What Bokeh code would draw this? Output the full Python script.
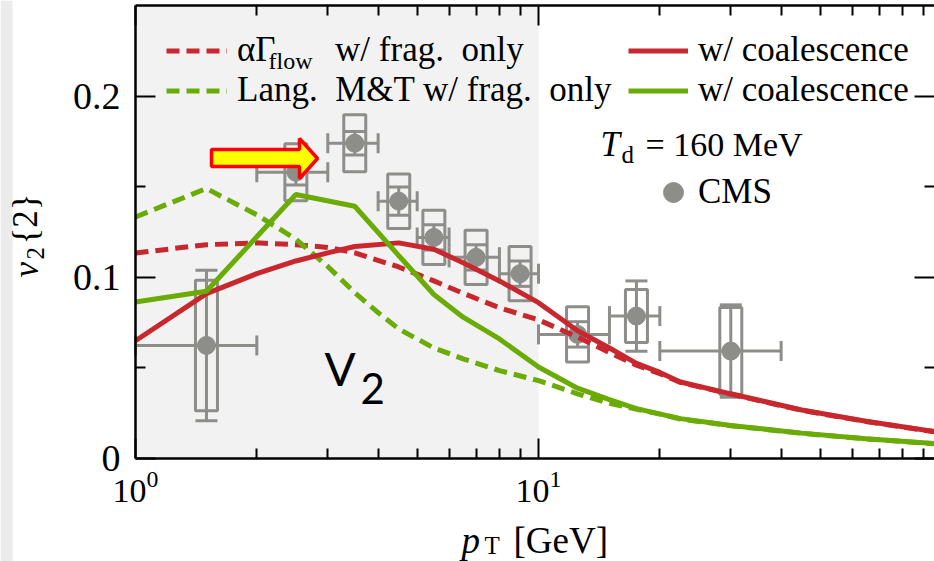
from bokeh.plotting import figure
from bokeh.models import (Range1d, LogAxis, LinearAxis, FixedTicker, LogTickFormatter,
                          BoxAnnotation, Legend, LegendItem, Label, PolyAnnotation,
                          Whisker, TeeHead, ColumnDataSource, NumeralTickFormatter,
                          CustomJSTickFormatter)
from bokeh.embed import file_html
from bokeh.resources import INLINE
from math import pi

# ---------------- data ----------------
# model curves (pT in GeV, v2{2})
frag_alpha_x = [1.0, 1.5, 2.0, 2.5, 3.0, 3.5, 4.5, 5.5, 6.5, 8.0, 10.0, 12.5, 15.0, 17.5, 20.0, 22.5, 30.0, 45.0, 65.0, 100.0]
frag_alpha_y = [0.1134, 0.118, 0.119, 0.118, 0.1165, 0.1135, 0.1057, 0.098, 0.0912, 0.0832, 0.0765, 0.067, 0.0585, 0.0515, 0.0468, 0.0420, 0.0355, 0.0266, 0.0204, 0.0142]

coal_alpha_x = [1.0, 1.5, 2.0, 2.5, 3.0, 3.5, 4.5, 5.5, 6.5, 8.0, 10.0, 12.5, 15.0, 17.5, 20.0, 22.5, 30.0, 45.0, 65.0, 100.0]
coal_alpha_y = [0.065, 0.091, 0.102, 0.109, 0.1135, 0.117, 0.119, 0.1155, 0.108, 0.098, 0.086, 0.0705, 0.061, 0.0525, 0.0475, 0.0422, 0.0357, 0.0268, 0.0206, 0.0143]

frag_lang_x = [1.0, 1.5, 2.0, 2.5, 3.0, 3.5, 4.0, 4.5, 5.5, 6.5, 8.0, 10.0, 12.5, 15.0, 20.0, 22.5, 30.0, 45.0, 65.0, 100.0]
frag_lang_y = [0.1333, 0.149, 0.1345, 0.121, 0.106, 0.0915, 0.0805, 0.0715, 0.061, 0.055, 0.0485, 0.043, 0.0357, 0.0305, 0.0245, 0.0218, 0.0181, 0.0139, 0.0108, 0.0079]

coal_lang_x = [1.0, 1.5, 2.5, 3.5, 4.5, 5.5, 6.5, 8.0, 10.0, 12.5, 15.0, 17.5, 22.5, 30.0, 45.0, 65.0, 100.0]
coal_lang_y = [0.0864, 0.0923, 0.1457, 0.1392, 0.112, 0.0905, 0.078, 0.066, 0.0505, 0.0388, 0.0325, 0.0275, 0.022, 0.0182, 0.014, 0.0109, 0.008]

# CMS data points
cms_x = [1.5, 2.5, 3.5, 4.5, 5.5, 7.0, 9.0, 12.5, 17.5, 30.0]
cms_y = [0.0624, 0.158, 0.174, 0.142, 0.122, 0.111, 0.102, 0.0685, 0.0786, 0.0593]
cms_x_lo = [1.0, 2.0, 3.0, 4.0, 5.0, 6.0, 8.0, 10.0, 15.0, 20.0]
cms_x_hi = [2.0, 3.0, 4.0, 5.0, 6.0, 8.0, 10.0, 15.0, 20.0, 40.0]
cms_stat = [0.0415, 0.007, 0.0065, 0.0078, 0.007, 0.007, 0.007, 0.007, 0.0194, 0.0255]
cms_syst = [0.036, 0.0157, 0.0157, 0.015, 0.015, 0.015, 0.015, 0.0152, 0.0146, 0.024]

x_ticks = [1, 10, 100]
x_minor_ticks = [2, 3, 4, 5, 6, 7, 8, 9, 20, 30, 40, 50, 60, 70, 80, 90]
y_ticks = [0.0, 0.1, 0.2]
y_minor_ticks = [0.05, 0.15]
y_top = 0.25

# ---------------- geometry / styles ----------------
W, H = 934, 561
X1_PX = 135      # page x of pT = 1
DEC_PX = 403     # pixels per decade
Y0_PX = 458      # page y of v2 = 0
YU_PX = 1812     # pixels per unit of v2

def dx(px):
    return 10 ** ((px - X1_PX) / DEC_PX)

def dy(py):
    return (Y0_PX - py) / YU_PX

x_start, x_end = dx(0), dx(W)
y_start, y_end = dy(H), dy(0)

RED = "#c8282d"
GREEN = "#6aab05"
GRAY = "#8d8d8a"
SERIF = "Liberation Serif"

p = figure(width=W, height=H, x_axis_type="log",
           x_range=Range1d(x_start, x_end), y_range=Range1d(y_start, y_end),
           output_backend="svg", toolbar_location=None,
           min_border_left=0, min_border_right=0, min_border_top=0, min_border_bottom=0)
p.outline_line_color = None
p.xgrid.visible = False
p.ygrid.visible = False
p.background_fill_color = "white"
p.border_fill_color = "white"

# light strip at the left edge of the slide and shaded region below 10 GeV
p.add_layout(BoxAnnotation(left=x_start, right=dx(12), fill_color="#ebebeb", fill_alpha=1.0,
                           line_color=None, level="underlay"))
p.add_layout(BoxAnnotation(left=1, right=10, bottom=0, top=y_top, fill_color="#f2f2f2",
                           fill_alpha=1.0, line_color=None, level="underlay"))

# axes (placed inside the canvas with fixed locations)
xticker = FixedTicker(ticks=x_ticks, minor_ticks=x_minor_ticks)
yticker = FixedTicker(ticks=y_ticks, minor_ticks=y_minor_ticks)
bottom_axis = p.below[0]
left_axis = p.left[0]
bottom_axis.ticker = xticker
bottom_axis.formatter = LogTickFormatter()
bottom_axis.fixed_location = 0
bottom_axis.bounds = (1, x_end)
left_axis.ticker = yticker
left_axis.formatter = NumeralTickFormatter(format="0.[0]")
left_axis.fixed_location = 1
left_axis.bounds = (0, y_top)

blank = CustomJSTickFormatter(code="return ''")
top_axis = LogAxis(ticker=xticker, formatter=blank, fixed_location=y_top, bounds=(1, x_end))
right_axis = LinearAxis(ticker=yticker, formatter=blank, fixed_location=x_end, bounds=(0, y_top))
p.add_layout(top_axis, "above")
p.add_layout(right_axis, "right")

for ax in [bottom_axis, left_axis, top_axis, right_axis]:
    ax.axis_line_width = 2.5
    ax.axis_line_color = "black"
    ax.major_tick_in = 20
    ax.major_tick_out = 0
    ax.minor_tick_in = 10
    ax.minor_tick_out = 0
    ax.major_tick_line_width = 2
    ax.minor_tick_line_width = 2
    ax.major_tick_line_color = "black"
    ax.minor_tick_line_color = "black"
    ax.major_label_text_font = SERIF
    ax.major_label_text_color = "black"

for ax in [top_axis, right_axis]:
    ax.major_label_text_font_size = "1px"
    ax.major_label_standoff = 0
right_axis.axis_line_color = None

left_axis.major_label_text_font_size = "38px"
left_axis.major_label_standoff = 15
bottom_axis.major_label_text_font_size = "34px"
bottom_axis.major_label_standoff = 12

# CMS data
src = ColumnDataSource(dict(
    x=cms_x, y=cms_y, xlo=cms_x_lo, xhi=cms_x_hi,
    ylo=[a - b for a, b in zip(cms_y, cms_stat)],
    yhi=[a + b for a, b in zip(cms_y, cms_stat)],
    sh=[2 * s for s in cms_syst]))

p.add_layout(Whisker(source=src, base="y", lower="xlo", upper="xhi", dimension="width",
                     line_color=GRAY, line_width=3,
                     upper_head=TeeHead(size=20, line_color=GRAY, line_width=3),
                     lower_head=TeeHead(size=20, line_color=GRAY, line_width=3)))
p.add_layout(Whisker(source=src, base="x", lower="ylo", upper="yhi", dimension="height",
                     line_color=GRAY, line_width=3,
                     upper_head=TeeHead(size=22, line_color=GRAY, line_width=3),
                     lower_head=TeeHead(size=22, line_color=GRAY, line_width=3)))
p.rect(x="x", y="y", width=22, height="sh", width_units="screen", source=src,
       fill_color=None, line_color=GRAY, line_width=3)
r_cms = p.scatter(x="x", y="y", source=src, size=18, marker="circle",
                  fill_color=GRAY, line_color=GRAY)

# model curves
r_fa = p.line(frag_alpha_x, frag_alpha_y, line_color=RED, line_width=5, line_dash="13 7")
r_fl = p.line(frag_lang_x, frag_lang_y, line_color=GREEN, line_width=5, line_dash="13 7")
r_ca = p.line(coal_alpha_x, coal_alpha_y, line_color=RED, line_width=5)
r_cl = p.line(coal_lang_x, coal_lang_y, line_color=GREEN, line_width=5)

# legends (location = offset of the legend's bottom-left from the frame's bottom-left)
def mk_legend(items, loc, gw, gh, standoff):
    lg = Legend(items=items, location=loc, orientation="vertical",
                glyph_width=gw, glyph_height=gh, label_height=gh,
                label_standoff=standoff, spacing=0, padding=0, margin=0,
                label_text_font=SERIF, label_text_font_size="35px",
                label_text_color="black",
                border_line_color=None, background_fill_alpha=0)
    p.add_layout(lg, "center")
    return lg

mk_legend([LegendItem(label="αΓ\u2003\u2002\u2009w/ frag.\u2002only", renderers=[r_fa]),
           LegendItem(label="Lang.\u2002M&T w/ frag.\u2002only", renderers=[r_fl])],
          (166, H - 110), 61, 37, 10)
mk_legend([LegendItem(label="w/ coalescence", renderers=[r_ca]),
           LegendItem(label="w/ coalescence", renderers=[r_cl])],
          (628, H - 110), 60, 37, 10)
mk_legend([LegendItem(label="CMS", renderers=[r_cms])], (648, H - 217), 50, 50, -6)

def lab(px, py, text, size, style="normal", font=SERIF, angle=0.0, k=0.32):
    # (px, py): page position of the text baseline start; k corrects the
    # renderer's baseline placement (fraction of the font size)
    shift = k * size
    if angle:
        px, py = px - shift, py
    else:
        px, py = px, py - shift
    p.add_layout(Label(x=dx(px), y=dy(py), text=text, text_font=font,
                       text_font_size=f"{size}px", text_font_style=style,
                       text_color="black", angle=angle,
                       text_align="left", text_baseline="alphabetic"))

# subscript of legend entry
lab(268, 68, "flow", 24)

# T_d = 160 MeV
lab(600, 155, "T", 35, "italic")
lab(621, 162, "d", 25)
lab(645, 155, "= 160 MeV", 34)

# V2 annotation
lab(324, 385, "V", 46, font="Lato", k=0.36)
lab(360, 403, "2", 42, font="Lato", k=0.36)

# arrow
arrow_px = [211, 299, 299, 317, 299, 299, 211]
arrow_py = [149, 149, 138, 158, 178, 166, 166]
p.add_layout(PolyAnnotation(
    xs=[dx(v) for v in arrow_px], ys=[dy(v) for v in arrow_py],
    fill_color="#ffff00", fill_alpha=1.0, line_color="#ff0000", line_alpha=1.0,
    line_width=3.5, level="annotation"))

# axis titles
lab(461, 552, "p", 37, "italic")
lab(484, 553, "T", 25)
lab(513, 552, "[GeV]", 37)

lab(37, 277, "v", 35, "italic", angle=pi / 2)
lab(43, 259, "2", 25, angle=pi / 2)
lab(36, 244, "{2}", 35, angle=pi / 2)

open("out.html", "w").write(file_html(p, INLINE))
